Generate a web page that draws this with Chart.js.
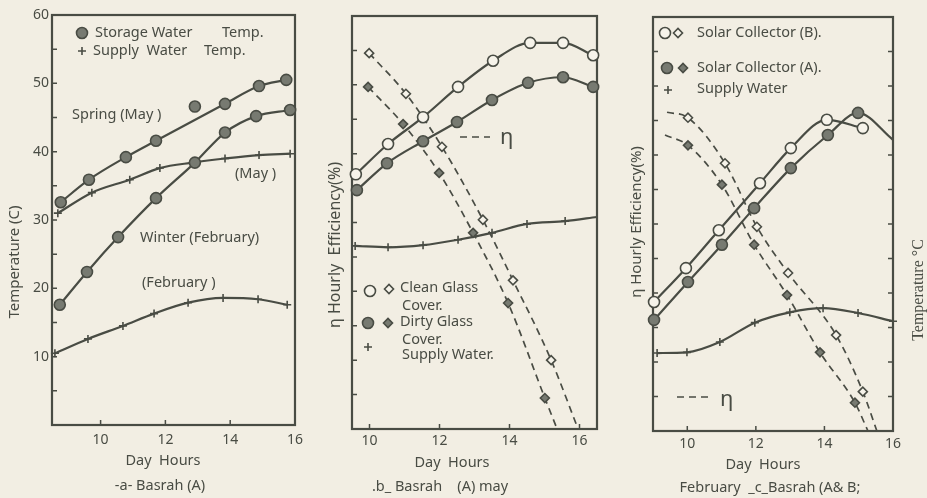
<!DOCTYPE html>
<html>
<head>
<meta charset="utf-8">
<script src="https://cdn.jsdelivr.net/npm/chart.js@4.4.1/dist/chart.umd.min.js"></script>
<style>
  body { margin: 0; background: #f2eee3; }
  .panel { position: absolute; top: 0; }
</style>
</head>
<body>
<div class="panel" style="left:0"><canvas id="chart-a" width="310" height="498"></canvas></div>
<div class="panel" style="left:310px"><canvas id="chart-b" width="300" height="498"></canvas></div>
<div class="panel" style="left:610px"><canvas id="chart-c" width="317" height="498"></canvas></div>
<script>
// a - Basrah (A), temperatures
const hoursSpring = [8.77, 9.64, 10.78, 11.71, 13.84, 14.89, 15.73];
const springStorage = [32.6, 35.9, 39.2, 41.6, 47.0, 49.6, 50.5];
const hoursSpringStray = [12.91];
const springStorageStray = [46.6];
const hoursWinter = [8.74, 9.58, 10.54, 11.71, 12.91, 13.84, 14.8, 15.85];
const winterStorage = [17.6, 22.4, 27.5, 33.2, 38.4, 42.8, 45.2, 46.1];
const hoursMaySupply = [8.68, 9.73, 10.9, 11.83, 12.85, 13.84, 14.89, 15.85];
const maySupply = [31.0, 34.0, 35.9, 37.6, 38.4, 39.0, 39.5, 39.7];
const hoursFebSupply = [8.59, 9.61, 10.69, 11.65, 12.7, 13.78, 14.86, 15.76];
const febSupply = [10.5, 12.6, 14.5, 16.3, 17.9, 18.6, 18.4, 17.6];

// b - Basrah (A) may, clean vs dirty glass
const hoursClean = [9.61, 10.53, 11.53, 12.53, 13.53, 14.59, 15.53, 16.39];
const cleanTemp = [37.0, 41.4, 45.3, 49.7, 53.5, 56.1, 56.1, 54.3];
const hoursDirty = [9.64, 10.5, 11.53, 12.5, 13.5, 14.53, 15.53, 16.39];
const dirtyTemp = [34.7, 38.6, 41.8, 44.6, 47.8, 50.3, 51.1, 49.7];
const hoursCleanEta = [9.99, 11.04, 12.07, 13.24, 14.1, 15.19, 15.96];
const cleanEta = [54.6, 48.7, 41.0, 30.4, 21.6, 10.0, 0];
const hoursDirtyEta = [9.96, 10.96, 11.99, 12.96, 13.96, 15.01, 15.36];
const dirtyEta = [49.7, 44.3, 37.2, 28.5, 18.3, 4.5, 0];
const hoursSupplyB = [9.59, 10.53, 11.53, 12.53, 13.5, 14.5, 15.59, 16.5];
const supplyB = [26.6, 26.4, 26.7, 27.5, 28.5, 29.8, 30.2, 30.8];

// c - Basrah (A & B) february
const hoursCollB = [9.03, 9.96, 10.92, 12.12, 13.02, 14.07, 15.12];
const collectorB = [18.7, 23.6, 29.1, 35.9, 41.0, 45.1, 43.9];
const hoursCollA = [9.03, 10.02, 11.01, 11.95, 13.02, 14.1, 14.98, 16.0];
const collectorA = [16.1, 21.6, 27.0, 32.3, 38.1, 42.9, 46.1, 42.2];
const hoursEtaB = [9.41, 10.02, 11.1, 12.03, 12.94, 14.34, 15.12, 15.53];
const etaB = [46.2, 45.4, 38.8, 29.6, 22.9, 13.9, 5.7, 0];
const hoursEtaA = [9.35, 10.02, 11.01, 11.95, 12.91, 13.87, 14.89, 15.27];
const etaA = [42.9, 41.4, 35.7, 27.0, 19.7, 11.4, 4.1, 0];
const hoursSupplyC = [9.12, 9.99, 10.95, 11.97, 12.99, 13.96, 14.98, 16.0];
const supplyC = [11.3, 11.4, 12.9, 15.7, 17.2, 17.8, 17.1, 15.9];

const xTicks = [10, 12, 14, 16];

const ink = '#494c44';
const paper = '#f6f3ea';
const greyFill = '#777a71';
const font = { family: 'Noto Sans', size: 14 };

const markers = {
  open: { pointStyle: 'circle', radius: 5.5, fill: paper },
  fill: { pointStyle: 'circle', radius: 5.5, fill: greyFill },
  openDiamond: { pointStyle: 'rectRot', radius: 4.5, fill: paper },
  fillDiamond: { pointStyle: 'rectRot', radius: 4.5, fill: greyFill },
  plus: { pointStyle: 'cross', radius: 4, fill: ink },
};

function series(xs, ys, marker, opts = {}) {
  let m = markers[marker];
  let last = xs.length - 1;
  return {
    data: xs.map((x, i) => ({ x: x, y: ys[i] })),
    showLine: opts.line !== false,
    borderColor: ink,
    borderWidth: opts.dashed ? 1.7 : 2.2,
    borderDash: opts.dashed ? [7, 5] : [],
    cubicInterpolationMode: 'monotone',
    pointStyle: m.pointStyle,
    pointBackgroundColor: m.fill,
    pointBorderColor: ink,
    pointBorderWidth: 1.6,
    pointRadius: ctx => {
      if (opts.bareStart && ctx.dataIndex === 0) return 0;
      if (opts.bareEnd && ctx.dataIndex === last) return 0;
      return m.radius;
    },
    clip: false,
  };
}

const paperPlugin = {
  id: 'paper',
  beforeDatasetsDraw(chart, args, opts) {
    let { ctx, chartArea: a, scales } = chart;
    ctx.save();
    ctx.strokeStyle = ink;
    ctx.lineWidth = 2.2;
    ctx.strokeRect(a.left, a.top, a.right - a.left, a.bottom - a.top);
    ctx.lineWidth = 1.5;
    ctx.beginPath();
    scales.y.ticks.forEach(t => {
      let py = scales.y.getPixelForValue(t.value);
      if (py <= a.top + 2 || py >= a.bottom - 2) return;
      ctx.moveTo(a.left, py); ctx.lineTo(a.left + 5, py);
      if (opts.rightTicks) { ctx.moveTo(a.right, py); ctx.lineTo(a.right - 5, py); }
    });
    scales.x.ticks.forEach(t => {
      let px = scales.x.getPixelForValue(t.value);
      if (px <= a.left + 2 || px >= a.right - 2) return;
      ctx.moveTo(px, a.bottom); ctx.lineTo(px, a.bottom - 5);
    });
    ctx.stroke();
    ctx.restore();
  },
  afterDraw(chart, args, opts) {
    let ctx = chart.ctx;
    ctx.save();
    ctx.fillStyle = ink;
    ctx.strokeStyle = ink;
    ctx.textBaseline = 'middle';
    (opts.notes || []).forEach(n => {
      if (n.marker) {
        let m = markers[n.marker];
        ctx.fillStyle = m.fill;
        ctx.lineWidth = 1.6;
        Chart.helpers.drawPoint(ctx, { pointStyle: m.pointStyle, radius: m.radius, borderWidth: 1.6, rotation: 0 }, n.x, n.y);
        ctx.fillStyle = ink;
        return;
      }
      if (n.dash) {
        ctx.lineWidth = 1.7;
        ctx.setLineDash([7, 5]);
        ctx.beginPath(); ctx.moveTo(n.x, n.y); ctx.lineTo(n.x + n.dash, n.y); ctx.stroke();
        ctx.setLineDash([]);
        return;
      }
      ctx.font = (n.size || 14.5) + 'px ' + (n.family || '"Noto Sans"');
      ctx.textAlign = n.center || n.rot ? 'center' : 'left';
      if (n.rot) {
        ctx.save();
        ctx.translate(n.x, n.y);
        ctx.rotate(-Math.PI / 2);
        ctx.fillText(n.text, 0, 0);
        ctx.restore();
      } else {
        ctx.fillText(n.text, n.x, n.y);
      }
    });
    ctx.restore();
  }
};

function makeChart(id, cfg) {
  return new Chart(document.getElementById(id), {
    type: 'line',
    data: { datasets: cfg.datasets },
    options: {
      responsive: false,
      animation: false,
      events: [],
      layout: { padding: cfg.padding },
      plugins: {
        legend: { display: false },
        tooltip: { enabled: false },
        paper: { notes: cfg.notes, rightTicks: cfg.rightTicks },
      },
      scales: {
        x: {
          type: 'linear',
          min: cfg.xMin,
          max: cfg.xMax,
          grid: { display: false, drawTicks: false },
          border: { display: false },
          afterBuildTicks: s => { s.ticks = xTicks.map(v => ({ value: v })); },
          ticks: { padding: cfg.xPad, color: ink, font: font, maxRotation: 0 },
          afterFit: s => { s.height = cfg.xHeight; },
        },
        y: {
          min: 0,
          max: 60,
          grid: { display: false, drawTicks: false },
          border: { display: false },
          ticks: {
            stepSize: 5,
            display: !!cfg.yLabels,
            padding: 3,
            color: ink,
            font: font,
            callback: v => (v > 0 && v % 10 === 0 ? v : ''),
          },
          afterFit: s => { s.width = cfg.yWidth; },
        },
      },
    },
    plugins: [paperPlugin],
  });
}

makeChart('chart-a', {
  xMin: 8.5, xMax: 16, xPad: 7, xHeight: 73, yWidth: 52, yLabels: true,
  padding: { top: 15, right: 8, bottom: 0, left: 0 },
  datasets: [
    series(hoursSpring, springStorage, 'fill'),
    series(hoursSpringStray, springStorageStray, 'fill', { line: false }),
    series(hoursWinter, winterStorage, 'fill'),
    series(hoursMaySupply, maySupply, 'plus'),
    series(hoursFebSupply, febSupply, 'plus'),
  ],
  notes: [
    { marker: 'fill', x: 82, y: 33 },
    { text: 'Storage Water', x: 95, y: 33 },
    { text: 'Temp.', x: 222, y: 33 },
    { marker: 'plus', x: 82, y: 51 },
    { text: 'Supply  Water', x: 93, y: 51 },
    { text: 'Temp.', x: 204, y: 51 },
    { text: 'Spring (May )', x: 72, y: 115 },
    { text: '(May )', x: 235, y: 174 },
    { text: 'Winter (February)', x: 140, y: 238 },
    { text: '(February )', x: 142, y: 283 },
    { text: 'Temperature (C)', x: 15, y: 262, rot: true, size: 15 },
    { text: 'Day  Hours', x: 163, y: 461, center: true },
    { text: '-a- Basrah (A)', x: 160, y: 486, center: true },
  ],
});

makeChart('chart-b', {
  xMin: 9.5, xMax: 16.5, xPad: 4, xHeight: 69, yWidth: 42,
  padding: { top: 16, right: 13, bottom: 0, left: 0 },
  datasets: [
    series(hoursClean, cleanTemp, 'open'),
    series(hoursDirty, dirtyTemp, 'fill'),
    series(hoursCleanEta, cleanEta, 'openDiamond', { dashed: true, bareEnd: true }),
    series(hoursDirtyEta, dirtyEta, 'fillDiamond', { dashed: true, bareEnd: true }),
    series(hoursSupplyB, supplyB, 'plus', { bareEnd: true }),
  ],
  notes: [
    { marker: 'open', x: 60, y: 291 },
    { marker: 'openDiamond', x: 79, y: 289 },
    { text: 'Clean Glass', x: 90, y: 288 },
    { text: 'Cover.', x: 92, y: 306 },
    { marker: 'fill', x: 58, y: 323 },
    { marker: 'fillDiamond', x: 78, y: 323 },
    { text: 'Dirty Glass', x: 90, y: 322 },
    { text: 'Cover.', x: 92, y: 340 },
    { marker: 'plus', x: 58, y: 347 },
    { text: 'Supply Water.', x: 92, y: 355 },
    { dash: 30, x: 150, y: 137 },
    { text: 'η', x: 190, y: 138, size: 22 },
    { text: 'η Hourly  Efficiency(%)', x: 25, y: 245, rot: true, size: 16 },
    { text: 'Day  Hours', x: 142, y: 463, center: true },
    { text: '.b_ Basrah    (A) may', x: 130, y: 487, center: true },
  ],
});

makeChart('chart-c', {
  xMin: 9, xMax: 16, xPad: 5, xHeight: 67, yWidth: 43, rightTicks: true,
  padding: { top: 17, right: 34, bottom: 0, left: 0 },
  datasets: [
    series(hoursCollB, collectorB, 'open'),
    series(hoursCollA, collectorA, 'fill', { bareEnd: true }),
    series(hoursEtaB, etaB, 'openDiamond', { dashed: true, bareStart: true, bareEnd: true }),
    series(hoursEtaA, etaA, 'fillDiamond', { dashed: true, bareStart: true, bareEnd: true }),
    series(hoursSupplyC, supplyC, 'plus'),
  ],
  notes: [
    { marker: 'open', x: 55, y: 33 },
    { marker: 'openDiamond', x: 68, y: 33 },
    { text: 'Solar Collector (B).', x: 87, y: 33 },
    { marker: 'fill', x: 57, y: 68 },
    { marker: 'fillDiamond', x: 73, y: 68 },
    { text: 'Solar Collector (A).', x: 87, y: 68 },
    { marker: 'plus', x: 58, y: 90 },
    { text: 'Supply Water', x: 87, y: 89 },
    { dash: 33, x: 67, y: 397 },
    { text: 'η', x: 110, y: 400, size: 22 },
    { text: 'η Hourly Efficiency(%)', x: 27, y: 222, rot: true, size: 15 },
    { text: 'Temperature °C', x: 309, y: 290, rot: true, family: '"Liberation Serif"', size: 16 },
    { text: 'Day  Hours', x: 153, y: 465, center: true },
    { text: 'February  _c_Basrah (A& B;', x: 160, y: 488, center: true },
  ],
});
</script>
</body>
</html>
